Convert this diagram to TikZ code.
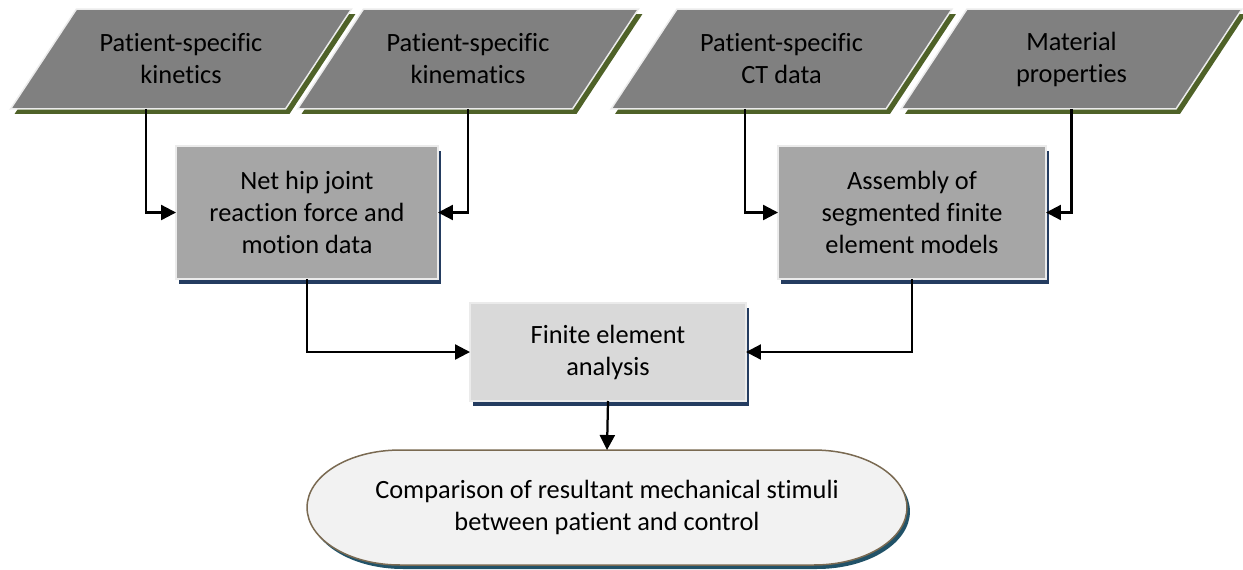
\documentclass[tikz,border=0pt]{standalone}
\usepackage{fontspec}
\setmainfont{Carlito}[Ligatures=NoCommon]
\usetikzlibrary{arrows.meta,shadows,backgrounds}

\definecolor{datagray}{RGB}{128,128,128}
\definecolor{datashadow}{RGB}{79,98,40}
\definecolor{procgray}{RGB}{166,166,166}
\definecolor{fegray}{RGB}{217,217,217}
\definecolor{procshadow}{RGB}{36,60,96}
\definecolor{resultfill}{RGB}{242,242,242}
\definecolor{resultline}{RGB}{122,106,82}
\definecolor{resultshadow}{RGB}{33,82,104}

\begin{document}
\begin{tikzpicture}[x=0.02cm,y=0.02cm,
    font=\fontsize{15}{18.2}\selectfont,
    datanode/.style={rectangle, minimum width=5.5cm, minimum height=2cm,
        inner sep=0pt, outer sep=0pt, align=center},
    datashape/.style={fill=datagray, draw=white!92!black, line width=0.03cm,
        drop shadow={shadow xshift=0.08cm, shadow yshift=-0.1cm, fill=datashadow, opacity=1}},
    procnode/.style={rectangle, minimum height=2.66cm, inner sep=0pt, outer sep=0pt,
        align=center, draw=white!92!black, line width=0.03cm,
        drop shadow={shadow xshift=0.06cm, shadow yshift=-0.1cm, fill=procshadow, opacity=1}},
    flow/.style={line width=0.045cm, -{Triangle[length=0.3cm,width=0.3cm]}}]

\useasboundingbox (0,0) rectangle (1243,-569);

% input data
\node[datanode] (kinetics) at (181,-59) {Patient-specific\\kinetics};
\node[datanode] (kinematics) at (468,-59) {Patient-specific\\kinematics};
\node[datanode] (ct) at (781.5,-59) {Patient-specific\\CT data};
\node[datanode] (material) at (1071.5,-59) {Material\\properties};
\begin{scope}[on background layer]
\foreach \n in {kinetics,kinematics,ct,material}
    \draw[datashape] ([xshift=-0.66cm]\n.south west) -- ([xshift=-0.66cm]\n.south east)
        -- ([xshift=0.66cm]\n.north east) -- ([xshift=0.66cm]\n.north west) -- cycle;
\end{scope}

% processing steps
\node[procnode, fill=procgray, minimum width=5.24cm] (net) at (307,-212.5) {Net hip joint\\reaction force and\\motion data};
\node[procnode, fill=procgray, minimum width=5.36cm] (assembly) at (912,-212.5) {Assembly of\\segmented finite\\element models};
\node[procnode, fill=fegray, minimum width=5.52cm, minimum height=1.96cm] (fea) at (608,-352) {Finite element\\analysis};

% result
\node[minimum width=12cm, minimum height=2.3cm, inner sep=0pt, outer sep=0pt, align=center] (compare) at (607,-507.5) {Comparison of resultant mechanical stimuli\\between patient and control};
\begin{scope}[on background layer]
\draw[fill=resultfill, draw=resultline, line width=0.03cm,
      drop shadow={shadow xshift=0.06cm, shadow yshift=-0.08cm, fill=resultshadow, opacity=1}]
    ([xshift=1.86cm]compare.north west) -- ([xshift=-1.86cm]compare.north east)
    arc[start angle=90, end angle=-90, x radius=1.86cm, y radius=1.15cm]
    -- ([xshift=1.86cm]compare.south west)
    arc[start angle=270, end angle=90, x radius=1.86cm, y radius=1.15cm] -- cycle;
\end{scope}

\draw[flow] ([xshift=-0.7cm]kinetics.south) |- (net.west);
\draw[flow] (kinematics.south) |- (net.east);
\draw[flow] ([xshift=-0.73cm]ct.south) |- (assembly.west);
\draw[flow] (material.south) |- (assembly.east);
\draw[flow] (net.south) |- (fea.west);
\draw[flow] (assembly.south) |- (fea.east);
\draw[flow] (fea.south) -- (compare.north);

\end{tikzpicture}
\end{document}
